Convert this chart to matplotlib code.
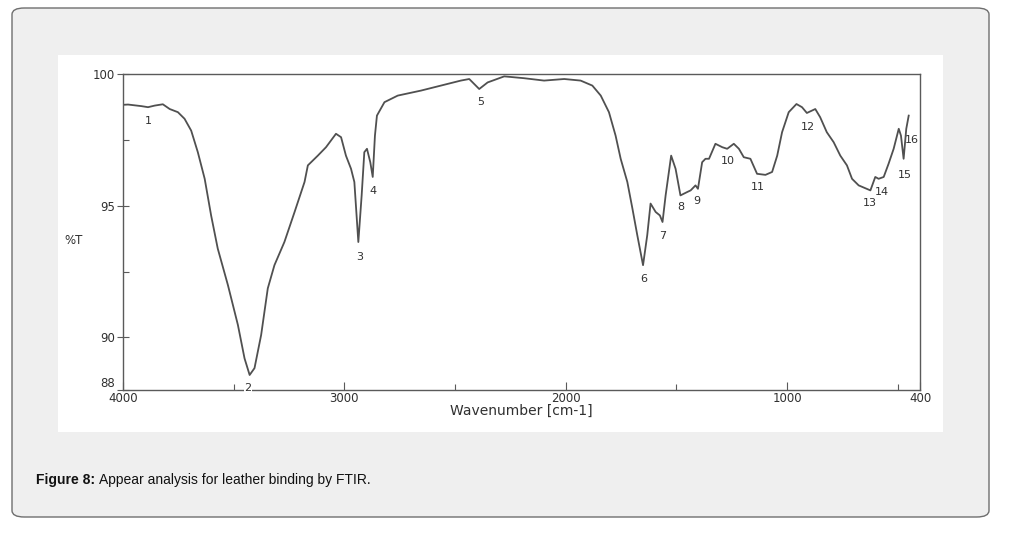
import matplotlib.pyplot as plt
from matplotlib.patches import FancyBboxPatch, Rectangle

# FTIR spectrum
wavenumber = [4000, 3977, 3917, 3887, 3857, 3820, 3789, 3752, 3722, 3692, 3662, 3631,
              3602, 3572, 3526, 3481, 3451, 3428, 3406, 3376, 3346, 3316, 3271, 3225,
              3180, 3165, 3120, 3083, 3038, 3015, 2993, 2970, 2955, 2937, 2922, 2910,
              2898, 2883, 2872, 2862, 2853, 2819, 2759, 2654, 2564, 2474, 2436, 2391,
              2353, 2278, 2188, 2098, 2007, 1933, 1880, 1842, 1805, 1775, 1752, 1722,
              1699, 1677, 1651, 1632, 1617, 1594, 1575, 1563, 1549, 1524, 1504, 1482,
              1451, 1436, 1414, 1403, 1384, 1369, 1353, 1324, 1293, 1271, 1241, 1218,
              1196, 1166, 1136, 1098, 1068, 1045, 1023, 993, 958, 933, 911, 873, 851,
              821, 790, 760, 730, 707, 677, 624, 602, 587, 564, 542, 519, 496, 486,
              474, 462, 451]
transmittance = [98.83, 98.84, 98.78, 98.74, 98.80, 98.85, 98.67, 98.55, 98.30, 97.85, 97.03, 96.02,
                 94.63, 93.37, 91.98, 90.47, 89.20, 88.57, 88.83, 90.09, 91.86, 92.74, 93.62, 94.76,
                 95.90, 96.53, 96.90, 97.22, 97.73, 97.60, 96.90, 96.40, 95.90, 93.62, 95.39, 97.03,
                 97.16, 96.65, 96.09, 97.66, 98.42, 98.93, 99.18, 99.37, 99.56, 99.75, 99.81, 99.43,
                 99.68, 99.91, 99.84, 99.75, 99.81, 99.75, 99.56, 99.18, 98.55, 97.66, 96.78, 95.90,
                 94.89, 93.88, 92.74, 93.88, 95.08, 94.76, 94.63, 94.38, 95.39, 96.90, 96.40, 95.39,
                 95.52, 95.58, 95.77, 95.64, 96.65, 96.78, 96.78, 97.35, 97.22, 97.16, 97.35, 97.16,
                 96.84, 96.78, 96.21, 96.17, 96.28, 96.90, 97.79, 98.55, 98.86, 98.74, 98.52, 98.67, 98.36,
                 97.79, 97.41, 96.90, 96.53, 96.02, 95.77, 95.58, 96.09, 96.02, 96.09, 96.59, 97.16, 97.92, 97.66,
                 96.78, 97.92, 98.42]

# peak numbers and where they are written
peak_labels = ['1', '2', '3', '4', '5', '6', '7', '8', '9', '10', '11', '12', '13', '14', '15', '16']
label_x = [3887, 3436, 2932, 2872, 2386, 1647, 1564, 1482, 1406, 1268, 1132, 907, 627, 572, 469, 439]
label_y = [98.23, 88.07, 93.06, 95.54, 98.95, 92.23, 93.85, 94.95, 95.16, 96.68, 95.71, 98.0,
           95.1, 95.52, 96.17, 97.51]

y_ticks = [100, 95, 90, 88]
x_ticks = [4000, 3000, 2000, 1000, 400]

W, H = 1023, 536
fig = plt.figure(figsize=(W / 100, H / 100), dpi=100)
fig.patch.set_facecolor('white')

# grey rounded card and white image area
card = FancyBboxPatch((12 / W, 1 - 517 / H), 977 / W, 509 / H,
                      boxstyle='round,pad=0,rounding_size=0.012',
                      transform=fig.transFigure, facecolor='#efefef',
                      edgecolor='#6e6e6e', linewidth=1.0, zorder=-3)
fig.patches.append(card)
panel = Rectangle((58 / W, 1 - 432 / H), 885 / W, 377 / H, transform=fig.transFigure,
                  facecolor='white', edgecolor='none', zorder=-2)
fig.patches.append(panel)

ax = fig.add_axes([123 / W, 1 - 390 / H, 797 / W, 316 / H])
ax.set_facecolor('none')
ax.plot(wavenumber, transmittance, color='#505050', lw=1.3)
ax.set_xlim(4000, 400)
ax.set_ylim(88, 100)

for s in ax.spines.values():
    s.set_color('#5a5a5a')
    s.set_linewidth(1.0)

txt_col = '#303030'
fnt = 'DejaVu Sans'
ax.set_yticks(y_ticks)
ax.set_yticklabels([str(t) for t in y_ticks], fontsize=8.5, color=txt_col, family=fnt)
ax.set_yticks([97.5, 92.5], minor=True)
ax.tick_params(axis='y', which='major', direction='inout', length=9, width=0.8,
               color='#5a5a5a', pad=1)
ax.tick_params(axis='y', which='minor', direction='in', length=4, width=0.8, color='#5a5a5a')
ax.get_yticklabels()[-1].set_va('bottom')

ax.set_xticks(x_ticks)
ax.set_xticklabels([str(t) for t in x_ticks], fontsize=8.5, color=txt_col, family=fnt)
ax.set_xticks([3500, 2500, 1500, 500], minor=True)
ax.tick_params(axis='x', which='major', direction='in', length=6, width=0.8,
               color='#5a5a5a', pad=1.5)
ax.tick_params(axis='x', which='minor', direction='in', length=4, width=0.8, color='#5a5a5a')

ax.set_xlabel('Wavenumber [cm-1]', fontsize=10, color=txt_col, family=fnt, labelpad=-1)

for lab, lx, ly in zip(peak_labels, label_x, label_y):
    kw = {}
    if lab == '2':
        kw['bbox'] = dict(facecolor='white', edgecolor='none', pad=0.5)
    ax.text(lx, ly, lab, fontsize=8, color=txt_col, ha='center', va='center',
            family=fnt, clip_on=False, **kw)

fig.text(74 / W, 1 - 241 / H, '%T', fontsize=8.5, color=txt_col,
         ha='center', va='center', family=fnt)

# caption with bold lead-in
cap_y = 1 - 480 / H
t1 = fig.text(36 / W, cap_y, 'Figure 8:', fontsize=10, fontweight='bold', color='#111111',
              va='center', family='Liberation Sans')
fig.canvas.draw()
bb = t1.get_window_extent(renderer=fig.canvas.get_renderer())
fig.text((bb.x1 + 4) / W, cap_y, 'Appear analysis for leather binding by FTIR.', fontsize=10,
         color='#111111', va='center', family='Liberation Sans')

fig.savefig('out.png', dpi=100)
